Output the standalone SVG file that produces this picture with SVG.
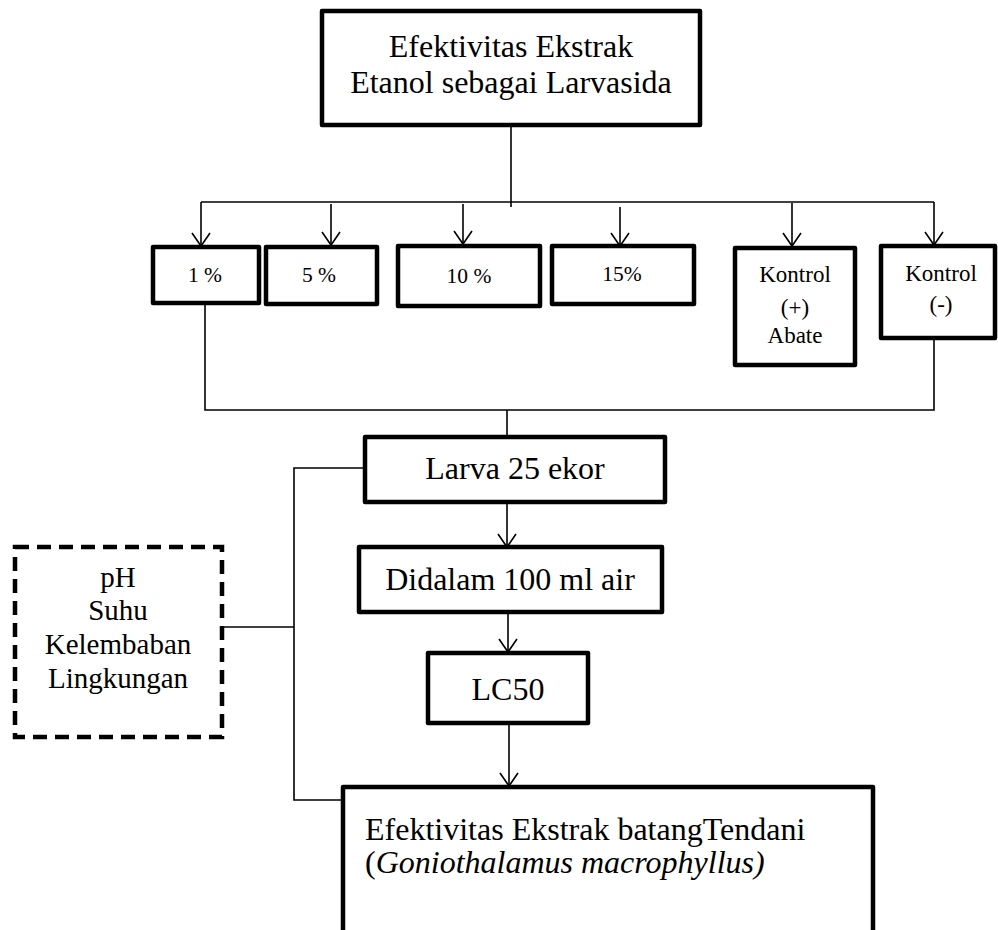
<svg xmlns="http://www.w3.org/2000/svg" width="998" height="930" viewBox="0 0 998 930">
<defs>
<marker id="arr" markerUnits="userSpaceOnUse" markerWidth="30" markerHeight="30" viewBox="-15 -15 30 30" refX="0" refY="0" orient="auto" overflow="visible">
<path d="M-13,-9 L0,0 L-13,9" fill="none" stroke="#000" stroke-width="1.6"/>
</marker>
</defs>
<style>
.box{fill:#fff;stroke:#000;stroke-width:4.5;stroke-linejoin:round}
.dash{fill:#fff;stroke:#000;stroke-width:4.5;stroke-dasharray:14 8}
.ln{fill:none;stroke:#000;stroke-width:1.6}
.ar{fill:none;stroke:#000;stroke-width:1.6;marker-end:url(#arr)}
text{font-family:"Liberation Serif","Times New Roman",serif;fill:#000}
.t32{font-size:32px}
.t29{font-size:29px}
.t22{font-size:21.5px}
.t23{font-size:23px}
</style>
<rect width="998" height="930" fill="#fff"/>

<g id="connectors">
<path class="ln" d="M511,125 V207"/>
<path class="ln" d="M201,202 H934"/>
<path class="ar" d="M201,202 V246"/>
<path class="ar" d="M331,204 V245"/>
<path class="ar" d="M463,204 V244"/>
<path class="ar" d="M620,207 V246"/>
<path class="ar" d="M792,203 V246"/>
<path class="ar" d="M934,202 V245"/>
<path class="ln" d="M205,303 V410 H934 V338"/>
<path class="ln" d="M507,410 V437"/>
<path class="ar" d="M507,502 V547"/>
<path class="ar" d="M508,612 V652"/>
<path class="ar" d="M509,723 V786"/>
<path class="ln" d="M365,468 H294 V800 H343"/>
<path class="ln" d="M222,627 H294"/>
</g>

<g id="n-top">
<rect class="box" x="322" y="11" width="378" height="114"/>
<text class="t32" x="511" y="57" text-anchor="middle">Efektivitas Ekstrak</text>
<text class="t32" x="511" y="93" text-anchor="middle">Etanol sebagai Larvasida</text>
</g>

<g id="n-1">
<rect class="box" x="153" y="247" width="106" height="56"/>
<text class="t22" x="205" y="282" text-anchor="middle">1 %</text>
</g>
<g id="n-5">
<rect class="box" x="266" y="247" width="111" height="57"/>
<text class="t22" x="319" y="282" text-anchor="middle">5 %</text>
</g>
<g id="n-10">
<rect class="box" x="398" y="246" width="142" height="60"/>
<text class="t22" x="469" y="283" text-anchor="middle">10 %</text>
</g>
<g id="n-15">
<rect class="box" x="552" y="246" width="142" height="58"/>
<text class="t22" x="622" y="281" text-anchor="middle">15%</text>
</g>
<g id="n-kplus">
<rect class="box" x="735" y="248" width="120" height="117"/>
<text class="t23" x="795" y="282" text-anchor="middle">Kontrol</text>
<text class="t23" x="795" y="315" text-anchor="middle">(+)</text>
<text class="t23" x="795" y="343" text-anchor="middle">Abate</text>
</g>
<g id="n-kmin">
<rect class="box" x="881" y="246" width="114" height="92"/>
<text class="t23" x="941" y="281" text-anchor="middle">Kontrol</text>
<text class="t23" x="941" y="312" text-anchor="middle">(-)</text>
</g>

<g id="n-larva">
<rect class="box" x="365" y="437" width="300" height="65"/>
<text class="t32" x="515" y="479" text-anchor="middle">Larva 25 ekor</text>
</g>
<g id="n-didalam">
<rect class="box" x="359" y="547" width="303" height="65"/>
<text class="t32" x="510" y="590" text-anchor="middle">Didalam 100 ml air</text>
</g>
<g id="n-lc50">
<rect class="box" x="428" y="653" width="160" height="70"/>
<text class="t32" x="508" y="700" text-anchor="middle">LC50</text>
</g>

<g id="n-faktor">
<rect class="dash" x="15" y="547" width="207" height="190"/>
<text class="t29" x="118" y="587" text-anchor="middle">pH</text>
<text class="t29" x="118" y="620" text-anchor="middle">Suhu</text>
<text class="t29" x="118" y="654" text-anchor="middle">Kelembaban</text>
<text class="t29" x="118" y="688" text-anchor="middle">Lingkungan</text>
</g>

<g id="n-hasil">
<path class="box" d="M343,935 V787 H873 V935"/>
<text class="t32" x="365" y="840">Efektivitas Ekstrak batangTendani</text>
<text class="t32" x="365" y="873">(<tspan font-style="italic">Goniothalamus macrophyllus)</tspan></text>
</g>
</svg>
